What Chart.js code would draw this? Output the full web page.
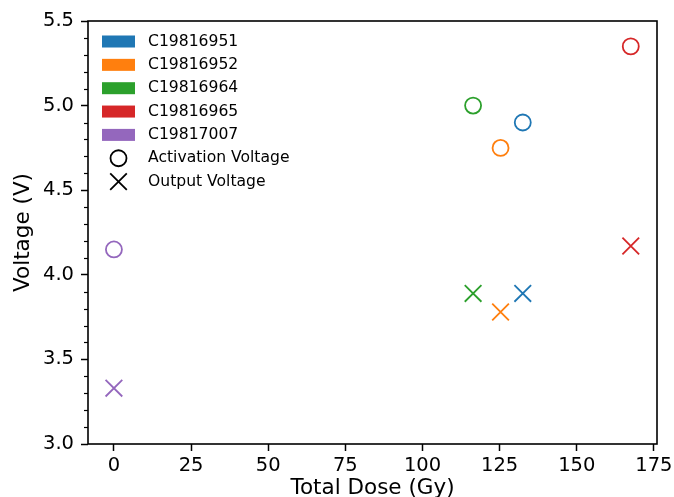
<!DOCTYPE html>
<html>
<head>
<meta charset="utf-8">
<script src="https://cdn.jsdelivr.net/npm/chart.js@4.4.1/dist/chart.umd.min.js"></script>
<style>
  html, body { margin: 0; padding: 0; background: #fff; }
  #wrap { width: 674px; height: 497px; }
</style>
</head>
<body>
<div id="wrap"><canvas id="doseChart" width="674" height="497"></canvas></div>
<script>
// data
const devices = ['C19816951', 'C19816952', 'C19816964', 'C19816965', 'C19817007'];
const colors = ['#1f77b4', '#ff7f0e', '#2ca02c', '#d62728', '#9467bd'];
const doses = [132.5, 125.3, 116.4, 167.5, 0];
const activationVoltage = [4.90, 4.75, 5.00, 5.35, 4.15];
const outputVoltage = [3.89, 3.78, 3.89, 4.17, 3.33];
const markerLabels = ['Activation Voltage', 'Output Voltage'];

const xTicks = [0, 25, 50, 75, 100, 125, 150, 175];
const yTicks = [3.0, 3.5, 4.0, 4.5, 5.0, 5.5];
const yMinorTicks = [3.1, 3.2, 3.3, 3.4, 3.6, 3.7, 3.8, 3.9, 4.1, 4.2, 4.3, 4.4,
                     4.6, 4.7, 4.8, 4.9, 5.1, 5.2, 5.3, 5.4];

const FONT = '"DejaVu Sans", sans-serif';

function buildDatasets() {
    return devices.map((name, i) => ({
        label: name,
        data: [
            { x: doses[i], y: activationVoltage[i] },
            { x: doses[i], y: outputVoltage[i] }
        ],
        showLine: false,
        pointStyle: ['circle', 'crossRot'],
        pointRadius: [8, 11.8],
        pointHoverRadius: [8, 11.8],
        pointBorderWidth: 1.8,
        pointBorderColor: colors[i],
        pointBackgroundColor: 'rgba(0,0,0,0)'
    }));
}

// frame, minor ticks and the legend drawn inside the plot
const extrasPlugin = {
    id: 'extras',
    afterDraw(chart) {
        const ctx = chart.ctx;
        const area = chart.chartArea;
        const yScale = chart.scales.y;
        ctx.save();

        // minor ticks on y
        ctx.strokeStyle = '#000';
        ctx.lineWidth = 1.2;
        yMinorTicks.forEach(v => {
            const y = Math.round(yScale.getPixelForValue(v)) + 0.5;
            ctx.beginPath();
            ctx.moveTo(area.left - 4, y);
            ctx.lineTo(area.left, y);
            ctx.stroke();
        });

        // frame
        ctx.lineWidth = 1.6;
        ctx.strokeRect(area.left, area.top, area.right - area.left, area.bottom - area.top);

        // legend
        const x0 = area.left;
        const rowY = i => area.top + 20.5 + i * 23.35;
        ctx.font = '15.6px ' + FONT;
        ctx.textBaseline = 'middle';
        devices.forEach((name, i) => {
            const y = rowY(i);
            ctx.fillStyle = colors[i];
            ctx.fillRect(x0 + 14, y - 6, 33, 12);
            ctx.fillStyle = '#000';
            ctx.fillText(name, x0 + 60, y);
        });

        ctx.strokeStyle = '#000';
        ctx.lineWidth = 1.8;
        // circle marker
        let y = rowY(devices.length);
        ctx.beginPath();
        ctx.arc(x0 + 30.5, y, 8, 0, Math.PI * 2);
        ctx.stroke();
        ctx.fillText(markerLabels[0], x0 + 60, y);
        // cross marker
        y = rowY(devices.length + 1);
        const d = 8.3;
        ctx.beginPath();
        ctx.moveTo(x0 + 30.5 - d, y - d);
        ctx.lineTo(x0 + 30.5 + d, y + d);
        ctx.moveTo(x0 + 30.5 - d, y + d);
        ctx.lineTo(x0 + 30.5 + d, y - d);
        ctx.stroke();
        ctx.fillText(markerLabels[1], x0 + 60, y);

        ctx.restore();
    }
};

function createChart() {
    const ctx = document.getElementById('doseChart').getContext('2d');
    new Chart(ctx, {
        type: 'scatter',
        data: { datasets: buildDatasets() },
        options: {
            responsive: false,
            animation: false,
            layout: { padding: { top: 21, right: 17, left: 0, bottom: 0 } },
            plugins: {
                legend: { display: false },
                tooltip: { enabled: false }
            },
            scales: {
                x: {
                    type: 'linear',
                    min: -8.4,
                    max: 176,
                    afterBuildTicks: s => { s.ticks = xTicks.map(v => ({ value: v })); },
                    afterFit: s => { s.height = 53; s.paddingLeft = 0; s.paddingRight = 0; },
                    grid: { drawOnChartArea: false, drawTicks: true, tickLength: 7, tickWidth: 1.5, tickColor: '#000' },
                    border: { display: false },
                    ticks: {
                        color: '#000',
                        padding: 3,
                        maxRotation: 0,
                        font: { family: FONT, size: 19.5 },
                        callback: v => String(v)
                    },
                    title: {
                        display: true,
                        text: 'Total Dose (Gy)',
                        color: '#000',
                        font: { family: FONT, size: 21.5, lineHeight: 0.93 },
                        padding: { top: 0, bottom: -1 }
                    }
                },
                y: {
                    type: 'linear',
                    min: 3.0,
                    max: 5.5,
                    afterBuildTicks: s => { s.ticks = yTicks.map(v => ({ value: v })); },
                    afterFit: s => { s.width = 88; s.paddingTop = 0; s.paddingBottom = 0; },
                    grid: { drawOnChartArea: false, drawTicks: true, tickLength: 7, tickWidth: 1.5, tickColor: '#000' },
                    border: { display: false },
                    ticks: {
                        color: '#000',
                        padding: 7,
                        font: { family: FONT, size: 19.5 },
                        callback: v => v.toFixed(1)
                    },
                    title: {
                        display: true,
                        text: 'Voltage (V)',
                        color: '#000',
                        font: { family: FONT, size: 21.5, lineHeight: 1.0 },
                        padding: { top: 12.5, bottom: 0 }
                    }
                }
            }
        },
        plugins: [extrasPlugin]
    });
}

document.addEventListener('DOMContentLoaded', createChart);
</script>
</body>
</html>
